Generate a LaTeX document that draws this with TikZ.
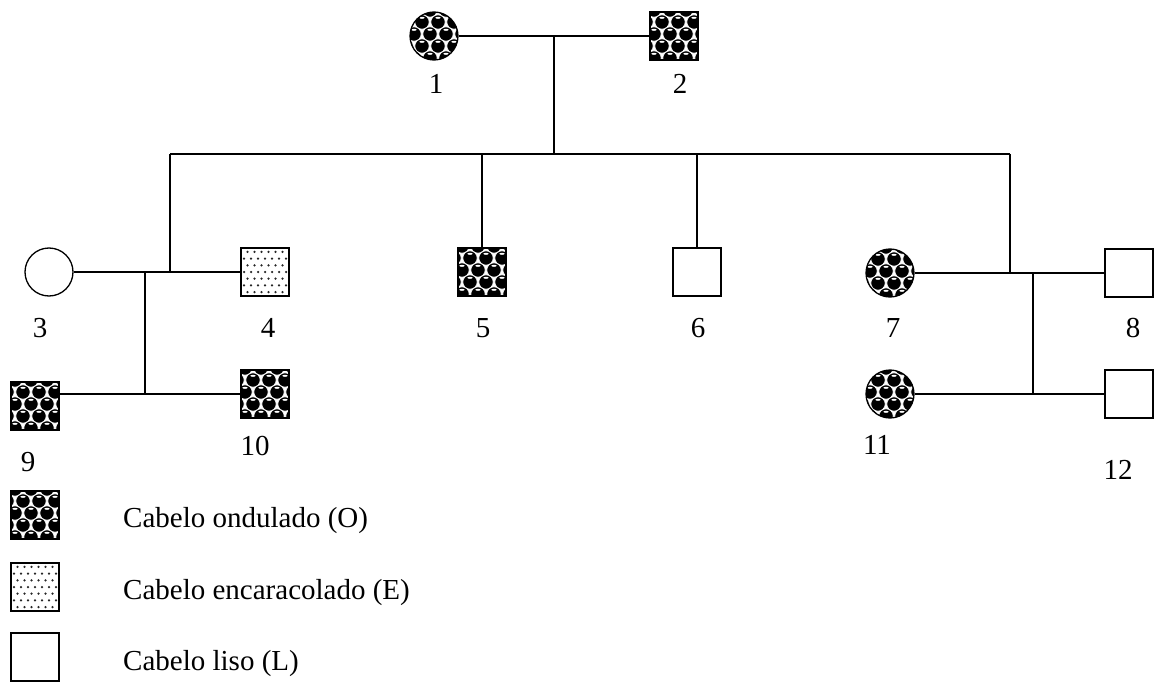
\documentclass[tikz,border=0pt]{standalone}
\usepackage{fontspec}
\setmainfont{Liberation Serif}
\tikzset{
  ln/.style={line width=1.3pt},
  ondpat/.style={path picture={
    \begin{scope}[shift={(path picture bounding box.center)}]
      \fill[white] (-26,-26) rectangle (26,26);
      \foreach \j in {-3,...,3}{\foreach \i in {-3,...,3}{
        \pgfmathtruncatemacro{\ckpar}{mod(\j+8,2)}
        \pgfmathsetmacro{\bx}{16*\i+8*\ckpar-4}
        \pgfmathsetmacro{\by}{12*\j-2}
        \fill[black,draw=white,line width=0.7pt] (\bx,\by) circle (7.2);
        \fill[white] (\bx,\by-4.2) ellipse (2.6 and 1.0);
      }}
    \end{scope}}},
  dotpat/.style={path picture={
    \begin{scope}[shift={(path picture bounding box.center)}]
      \foreach \i in {-4,...,4}{\foreach \j in {-4,...,4}{
        \pgfmathtruncatemacro{\dkpar}{mod(\j+8,2)}
        \fill[black!85] (7*\i+3.5*\dkpar,6.7*\j) circle (1.25);
      }}
    \end{scope}}},
  sq/.style={draw, ln, rectangle, minimum size=48pt, inner sep=0pt, fill=white},
  ci/.style={draw, ln, circle, minimum size=48pt, inner sep=0pt, fill=white},
  lab/.style={font=\fontsize{29}{34}\selectfont, inner sep=0pt},
  leg/.style={font=\fontsize{29}{34}\selectfont, inner sep=0pt, anchor=west},
}
\begin{document}
\begin{tikzpicture}[x=1pt,y=-1pt]
\useasboundingbox (0,0) rectangle (1154,682);
% persons
\node[ci, ondpat] (p1) at (434,36) {};
\node[sq, ondpat] (p2) at (674,36) {};
\node[ci] (p3) at (49,272) {};
\node[sq, dotpat] (p4) at (265,272) {};
\node[sq, ondpat] (p5) at (482,272) {};
\node[sq] (p6) at (697,272) {};
\node[ci, ondpat] (p7) at (890,273) {};
\node[sq] (p8) at (1129,273) {};
\node[sq, ondpat] (p9) at (35,406) {};
\node[sq, ondpat] (p10) at (265,394) {};
\node[ci, ondpat] (p11) at (890,394) {};
\node[sq] (p12) at (1129,394) {};
% labels
\node[lab] (t1) at (436,84) {1};
\node[lab] (t2) at (680,84) {2};
\node[lab] (t3) at (40,328) {3};
\node[lab] (t4) at (268,328) {4};
\node[lab] (t5) at (483,328) {5};
\node[lab] (t6) at (698,328) {6};
\node[lab] (t7) at (893,328) {7};
\node[lab] (t8) at (1133,328) {8};
\node[lab] (t9) at (28,462) {9};
\node[lab] (t10) at (255,446) {10};
\node[lab] (t11) at (877,445) {11};
\node[lab] (t12) at (1118,470) {12};
% coordinates
\coordinate (m12) at (554,36);
\coordinate (s12) at (554,154);
\coordinate (sl) at (170,154);
\coordinate (sr) at (1010,154);
\coordinate (m34) at (170,272);
\coordinate (m78) at (1010,273);
\coordinate (c34) at (145,272);
\coordinate (c910) at (145,394);
\coordinate (c78) at (1033,273);
\coordinate (c1112) at (1033,394);
% connectors
\draw[ln] (p1.east) -- (p2.west);
\draw[ln] (m12) -- (s12);
\draw[ln] (sl) -- (sr);
\draw[ln] (sl) -- (m34);
\draw[ln] (p5.north |- sl) -- (p5.north);
\draw[ln] (p6.north |- sl) -- (p6.north);
\draw[ln] (sr) -- (m78);
\draw[ln] (p3.east) -- (p4.west);
\draw[ln] (c34) -- (c910);
\draw[ln] (p9.east |- c910) -- (p10.west);
\draw[ln] (p7.east) -- (p8.west);
\draw[ln] (c78) -- (c1112);
\draw[ln] (p11.east) -- (p12.west);
% legend
\node[sq, ondpat] (l1) at (35,515) {};
\node[sq, dotpat] (l2) at (35,587) {};
\node[sq] (l3) at (35,657) {};
\node[leg] (lt1) at (123,521) {Cabelo ondulado (O)};
\node[leg] (lt2) at (123,593) {Cabelo encaracolado (E)};
\node[leg] (lt3) at (123,664) {Cabelo liso (L)};
\end{tikzpicture}
\end{document}
